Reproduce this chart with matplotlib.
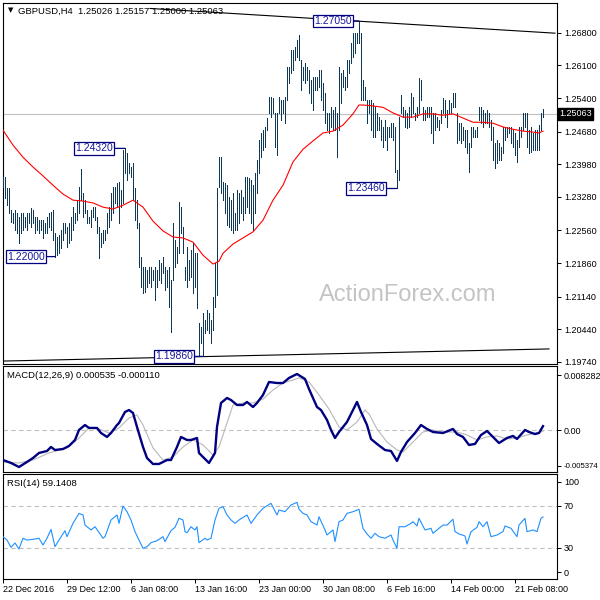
import numpy as np
import matplotlib.pyplot as plt
import matplotlib.transforms as mtransforms

plt.rcParams['font.family'] = ['Liberation Sans', 'DejaVu Sans']

# ---- data (GBPUSD H4, bar index 0 = 22 Dec 2016 00:00) ----
bar_high = [
    1.2370, 1.2370, 1.2347, 1.2347, 1.2300, 1.2293, 1.2300, 1.2293, 1.2285, 1.2293,
    1.2293, 1.2285, 1.2293, 1.2293, 1.2304, 1.2300, 1.2285, 1.2285, 1.2278, 1.2278,
    1.2278, 1.2272, 1.2285, 1.2293, 1.2295, 1.2300, 1.2250, 1.2242, 1.2246, 1.2257,
    1.2272, 1.2272, 1.2263, 1.2272, 1.2285, 1.2306, 1.2293, 1.2321, 1.2349, 1.2388,
    1.2336, 1.2321, 1.2300, 1.2285, 1.2300, 1.2306, 1.2306, 1.2285, 1.2263, 1.2250,
    1.2257, 1.2257, 1.2293, 1.2306, 1.2336, 1.2349, 1.2349, 1.2358, 1.2360, 1.2343,
    1.2428, 1.2432, 1.2422, 1.2400, 1.2392, 1.2400, 1.2347, 1.2321, 1.2272, 1.2200,
    1.2177, 1.2177, 1.2171, 1.2177, 1.2177, 1.2171, 1.2177, 1.2171, 1.2192, 1.2186,
    1.2199, 1.2177, 1.2171, 1.2177, 1.2150, 1.2272, 1.2235, 1.2220, 1.2317, 1.2306,
    1.2263, 1.2177, 1.2220, 1.2192, 1.2214, 1.2229, 1.2207, 1.2207, 1.2057, 1.2050,
    1.2079, 1.2064, 1.2085, 1.2079, 1.2064, 1.2113, 1.2186, 1.2347, 1.2413, 1.2413,
    1.2360, 1.2358, 1.2353, 1.2328, 1.2321, 1.2336, 1.2293, 1.2343, 1.2336, 1.2343,
    1.2328, 1.2370, 1.2370, 1.2368, 1.2364, 1.2353, 1.2379, 1.2407, 1.2450, 1.2465,
    1.2471, 1.2478, 1.2497, 1.2542, 1.2542, 1.2540, 1.2508, 1.2508, 1.2542, 1.2536,
    1.2536, 1.2542, 1.2606, 1.2606, 1.2643, 1.2643, 1.2649, 1.2664, 1.2675, 1.2621,
    1.2606, 1.2615, 1.2606, 1.2600, 1.2578, 1.2585, 1.2585, 1.2585, 1.2600, 1.2600,
    1.2572, 1.2550, 1.2508, 1.2508, 1.2520, 1.2514, 1.2520, 1.2508, 1.2606, 1.2593,
    1.2600, 1.2585, 1.2621, 1.2621, 1.2658, 1.2679, 1.2679, 1.2679, 1.2705, 1.2679,
    1.2578, 1.2563, 1.2536, 1.2536, 1.2536, 1.2529, 1.2520, 1.2508, 1.2499, 1.2493,
    1.2478, 1.2493, 1.2478, 1.2478, 1.2486, 1.2486, 1.2478, 1.2385, 1.2500, 1.2546,
    1.2520, 1.2514, 1.2508, 1.2520, 1.2550, 1.2542, 1.2508, 1.2520, 1.2583, 1.2578,
    1.2520, 1.2514, 1.2520, 1.2520, 1.2520, 1.2508, 1.2508, 1.2499, 1.2493, 1.2514,
    1.2540, 1.2536, 1.2514, 1.2536, 1.2529, 1.2550, 1.2550, 1.2508, 1.2486, 1.2486,
    1.2478, 1.2471, 1.2471, 1.2443, 1.2478, 1.2478, 1.2471, 1.2478, 1.2520, 1.2520,
    1.2514, 1.2508, 1.2514, 1.2508, 1.2493, 1.2478, 1.2443, 1.2450, 1.2443, 1.2435,
    1.2478, 1.2478, 1.2478, 1.2478, 1.2478, 1.2471, 1.2465, 1.2450, 1.2478, 1.2478,
    1.2508, 1.2508, 1.2508, 1.2471, 1.2478, 1.2465, 1.2471, 1.2471, 1.2482, 1.2508,
    1.2516,
]
bar_low = [
    1.2349, 1.2325, 1.2310, 1.2293, 1.2274, 1.2272, 1.2257, 1.2250, 1.2229, 1.2250,
    1.2257, 1.2263, 1.2257, 1.2272, 1.2263, 1.2272, 1.2250, 1.2257, 1.2250, 1.2257,
    1.2240, 1.2250, 1.2250, 1.2263, 1.2257, 1.2235, 1.2200, 1.2203, 1.2207, 1.2218,
    1.2235, 1.2250, 1.2220, 1.2229, 1.2235, 1.2257, 1.2272, 1.2278, 1.2293, 1.2321,
    1.2285, 1.2293, 1.2272, 1.2272, 1.2263, 1.2285, 1.2278, 1.2250, 1.2197, 1.2220,
    1.2229, 1.2235, 1.2250, 1.2263, 1.2278, 1.2293, 1.2315, 1.2306, 1.2272, 1.2306,
    1.2315, 1.2379, 1.2364, 1.2379, 1.2370, 1.2321, 1.2278, 1.2261, 1.2177, 1.2135,
    1.2122, 1.2124, 1.2135, 1.2143, 1.2135, 1.2150, 1.2107, 1.2135, 1.2150, 1.2143,
    1.2165, 1.2128, 1.2135, 1.2092, 1.2038, 1.2150, 1.2177, 1.2186, 1.2207, 1.2250,
    1.2207, 1.2150, 1.2135, 1.2150, 1.2156, 1.2122, 1.2135, 1.2090, 1.1990, 1.2015,
    1.1986, 1.2036, 1.2042, 1.2036, 1.2015, 1.2042, 1.2092, 1.2117, 1.2349, 1.2336,
    1.2321, 1.2293, 1.2268, 1.2263, 1.2257, 1.2250, 1.2257, 1.2257, 1.2272, 1.2293,
    1.2278, 1.2293, 1.2306, 1.2293, 1.2272, 1.2257, 1.2293, 1.2336, 1.2379, 1.2413,
    1.2428, 1.2435, 1.2471, 1.2508, 1.2499, 1.2508, 1.2435, 1.2418, 1.2508, 1.2493,
    1.2508, 1.2486, 1.2536, 1.2572, 1.2593, 1.2600, 1.2621, 1.2628, 1.2621, 1.2557,
    1.2578, 1.2572, 1.2578, 1.2550, 1.2529, 1.2514, 1.2557, 1.2557, 1.2563, 1.2536,
    1.2514, 1.2486, 1.2471, 1.2465, 1.2478, 1.2471, 1.2471, 1.2413, 1.2471, 1.2529,
    1.2563, 1.2557, 1.2563, 1.2593, 1.2615, 1.2628, 1.2636, 1.2658, 1.2658, 1.2536,
    1.2536, 1.2536, 1.2486, 1.2508, 1.2471, 1.2456, 1.2456, 1.2471, 1.2471, 1.2450,
    1.2435, 1.2450, 1.2428, 1.2456, 1.2456, 1.2450, 1.2381, 1.2346, 1.2364, 1.2508,
    1.2499, 1.2478, 1.2475, 1.2478, 1.2499, 1.2508, 1.2493, 1.2499, 1.2508, 1.2536,
    1.2493, 1.2493, 1.2499, 1.2499, 1.2465, 1.2443, 1.2471, 1.2478, 1.2471, 1.2486,
    1.2508, 1.2499, 1.2478, 1.2508, 1.2508, 1.2520, 1.2520, 1.2443, 1.2450, 1.2443,
    1.2450, 1.2435, 1.2422, 1.2381, 1.2435, 1.2456, 1.2456, 1.2456, 1.2493, 1.2486,
    1.2478, 1.2486, 1.2486, 1.2478, 1.2450, 1.2407, 1.2390, 1.2400, 1.2407, 1.2407,
    1.2422, 1.2450, 1.2456, 1.2465, 1.2443, 1.2435, 1.2418, 1.2403, 1.2435, 1.2456,
    1.2471, 1.2478, 1.2435, 1.2422, 1.2424, 1.2428, 1.2428, 1.2428, 1.2428, 1.2471,
    1.2500,
]

# moving average (red), sampled along the line
ma_points = [
    (0, 1.2471), (5, 1.2439), (10, 1.2413), (15, 1.2392), (20, 1.2373), (25, 1.2353),
    (30, 1.2334), (35, 1.2321), (40, 1.2319), (45, 1.2315), (50, 1.2306), (55, 1.2302),
    (60, 1.2310), (65, 1.2321), (70, 1.2306), (75, 1.2276), (80, 1.2255), (85, 1.2242),
    (90, 1.2240), (95, 1.2231), (100, 1.2203), (105, 1.2184), (108, 1.2190), (110, 1.2207),
    (115, 1.2227), (120, 1.2240), (125, 1.2253), (130, 1.2278), (135, 1.2321), (140, 1.2353),
    (145, 1.2403), (150, 1.2430), (155, 1.2448), (160, 1.2465), (165, 1.2469), (170, 1.2482),
    (175, 1.2506), (178, 1.2525), (180, 1.2525), (185, 1.2523), (190, 1.2520), (195, 1.2508),
    (200, 1.2499), (205, 1.2499), (210, 1.2506), (215, 1.2506), (220, 1.2503), (225, 1.2506),
    (230, 1.2497), (235, 1.2488), (240, 1.2488), (245, 1.2486), (250, 1.2478), (255, 1.2473),
    (260, 1.2469), (265, 1.2467), (268, 1.2465), (270, 1.2469),
]

macd_points = [
    (0, -0.00383), (4, -0.00421), (8, -0.00473), (12, -0.00408), (15, -0.00357),
    (18, -0.00292), (22, -0.00267), (24, -0.00215), (26, -0.00254), (30, -0.00241),
    (33, -0.00202), (36, -0.00125), (38, 0.00004), (41, 0.00068), (43, 0.00030),
    (47, 0.00030), (49, -0.00035), (52, -0.00086), (54, -0.00035), (57, 0.00068),
    (58, 0.00094), (61, 0.00236), (63, 0.00261), (65, 0.00223), (67, 0.00043),
    (70, -0.00215), (72, -0.00357), (75, -0.00434), (78, -0.00434), (82, -0.00383),
    (84, -0.00383), (87, -0.00215), (89, -0.00086), (92, -0.00125), (94, -0.00125),
    (97, -0.00099), (98, -0.00292), (101, -0.00370), (103, -0.00421), (106, -0.00292),
    (107, 0.00043), (109, 0.00352), (112, 0.00416), (114, 0.00390), (117, 0.00326),
    (120, 0.00326), (122, 0.00365), (125, 0.00300), (127, 0.00352), (130, 0.00455),
    (133, 0.00622), (137, 0.00609), (140, 0.00609), (143, 0.00674), (147, 0.00725),
    (151, 0.00661), (153, 0.00532), (157, 0.00300), (159, 0.00261), (162, 0.00133),
    (164, 0.00004), (166, -0.00099), (168, -0.00022), (172, 0.00107), (175, 0.00261),
    (177, 0.00365), (179, 0.00236), (182, 0.00068), (184, -0.00112), (187, -0.00176),
    (191, -0.00254), (194, -0.00267), (197, -0.00395), (199, -0.00279), (202, -0.00151),
    (206, -0.00035), (209, 0.00068), (212, 0.00017), (215, -0.00022), (220, -0.00035),
    (225, 0.00017), (227, -0.00048), (230, -0.00086), (233, -0.00189), (236, -0.00176),
    (239, -0.00061), (242, -0.00009), (245, -0.00086), (248, -0.00164), (252, -0.00099),
    (255, -0.00073), (257, -0.00112), (261, 0.00004), (263, -0.00022), (266, -0.00048),
    (268, -0.00035), (270, 0.000535),
]
signal_points = [
    (0, -0.00408), (8, -0.00421), (15, -0.00383), (23, -0.00292), (32, -0.00228),
    (38, -0.00099), (43, 0.00030), (48, 0.00017), (53, -0.00035), (58, 0.00030),
    (63, 0.00158), (67, 0.00197), (70, 0.00068), (75, -0.00228), (80, -0.00383),
    (85, -0.00344), (90, -0.00215), (95, -0.00125), (100, -0.00189), (105, -0.00318),
    (108, -0.00215), (112, 0.00094), (115, 0.00326), (120, 0.00352), (125, 0.00352),
    (130, 0.00403), (135, 0.00519), (140, 0.00609), (145, 0.00648), (148, 0.00674),
    (153, 0.00622), (158, 0.00455), (163, 0.00274), (168, 0.00043), (172, 0.00004),
    (177, 0.00107), (181, 0.00261), (183, 0.00210), (187, 0.00017), (192, -0.00151),
    (197, -0.00254), (200, -0.00279), (205, -0.00151), (210, -0.00022), (215, 0.00004),
    (220, -0.00022), (227, -0.00022), (232, -0.00061), (237, -0.00125), (242, -0.00086),
    (247, -0.00073), (252, -0.00112), (257, -0.00099), (262, -0.00061), (267, -0.00035),
    (270, -0.00011),
]

rsi_points = [
    (0, 40.3), (2, 37.1), (4, 30.2), (6, 34.3), (8, 28.6), (10, 38.8), (12, 37.1),
    (15, 37.8), (18, 38.8), (20, 32.4), (22, 38.8), (24, 47.3), (26, 30.8), (28, 37.1),
    (31, 46.0), (32, 40.3), (35, 53.0), (38, 62.5), (40, 61.0), (41, 51.4), (44, 46.7),
    (46, 49.8), (50, 38.8), (51, 40.3), (54, 56.2), (57, 61.0), (58, 53.0), (60, 69.5),
    (62, 64.1), (64, 56.2), (66, 45.1), (68, 37.1), (70, 29.2), (72, 30.8), (74, 34.6),
    (77, 36.5), (80, 40.3), (81, 35.6), (84, 46.0), (86, 49.2), (88, 57.8), (90, 56.2),
    (91, 45.1), (92, 44.1), (94, 49.8), (96, 46.7), (97, 49.8), (98, 34.6), (101, 38.8),
    (102, 37.1), (104, 38.8), (106, 56.2), (108, 67.3), (110, 68.9), (112, 61.0),
    (114, 56.2), (116, 53.0), (118, 56.2), (122, 61.0), (124, 53.0), (127, 61.0),
    (130, 67.3), (134, 72.1), (137, 61.0), (138, 65.7), (141, 64.1), (144, 70.5),
    (147, 73.0), (148, 66.5), (150, 62.5), (152, 61.0), (154, 54.6), (157, 51.4),
    (158, 59.3), (161, 46.7), (162, 41.9), (165, 46.7), (166, 35.6), (168, 54.6),
    (170, 56.2), (172, 62.5), (175, 64.1), (178, 66.4), (180, 48.3), (182, 42.9),
    (184, 38.8), (186, 43.5), (188, 40.3), (191, 38.8), (194, 41.9), (195, 37.1),
    (197, 29.2), (198, 49.8), (201, 49.8), (204, 53.0), (205, 54.6), (207, 50.5),
    (208, 57.8), (211, 46.7), (214, 48.3), (215, 43.5), (218, 48.3), (220, 51.4),
    (222, 51.4), (225, 56.9), (226, 45.1), (228, 42.9), (231, 41.0), (232, 33.3),
    (234, 45.1), (237, 49.2), (238, 54.6), (240, 49.8), (242, 54.6), (244, 40.3),
    (247, 41.9), (250, 45.1), (251, 50.5), (254, 48.3), (257, 40.3), (258, 51.4),
    (261, 57.8), (262, 45.1), (265, 46.7), (267, 45.1), (269, 57.8), (270, 59.1),
]

trend_upper = [(73.5, 1.2732), (276.0, 1.2679)]
trend_lower = [(0.0, 1.1976), (273.0, 1.2002)]

peak_labels = [(178, 1.2705, '1.27050'), (61, 1.2432, '1.24320'),
               (26, 1.2200, '1.22000'), (100, 1.1986, '1.19860'),
               (197, 1.2346, '1.23460')]
label_gap = [7, 12, 10, 10, 12]

last_price = 1.25063
price_ticks = [1.26800, 1.26100, 1.25400, 1.24680, 1.23980, 1.23280,
               1.22560, 1.21860, 1.21140, 1.20440, 1.19740]
macd_tick_pos = [0.00712, 0.0, -0.00460]
macd_tick_txt = ['0.008282', '0.00', '-0.005374']
rsi_tick_pos = [92.7, 70, 30, 6.4]
rsi_tick_txt = ['100', '70', '30', '0']
date_pos = [0, 32, 64, 96, 128, 160, 192, 224, 256]
date_txt = ['22 Dec 2016', '29 Dec 12:00', '6 Jan 08:00', '13 Jan 16:00',
            '23 Jan 00:00', '30 Jan 08:00', '6 Feb 16:00', '14 Feb 00:00',
            '21 Feb 08:00']

header = 'GBPUSD,H4  1.25026 1.25157 1.25000 1.25063'
macd_header = 'MACD(12,26,9) 0.000535 -0.000110'
rsi_header = 'RSI(14) 59.1408'

# ---- styling ----
bar_color = '#0f3856'
navy = '#000080'
label_blue = '#1818a0'
grey = '#c0c0c0'
tick_fs = 6.5
W = 600

fig = plt.figure(figsize=(6, 6), dpi=100)
fig.patch.set_facecolor('white')


def px_axes(top, bottom, left=2.5, right=557):
    return fig.add_axes([left / W, 1 - bottom / W, (right - left) / W, (bottom - top) / W])


ax = px_axes(3, 364)
axm = px_axes(366, 472)
axr = px_axes(474, 579)

for a in (ax, axm, axr):
    a.set_xlim(-0.25, 277)
    for s in a.spines.values():
        s.set_linewidth(0.8)
        s.set_color('black')
    a.yaxis.tick_right()
    a.tick_params(axis='y', direction='out', length=3, width=0.7, labelsize=tick_fs, pad=2)
    a.tick_params(axis='x', bottom=False, labelbottom=False)

# ---- main price panel ----
idx = np.arange(len(bar_high))
ax.set_ylim(1.19697, 1.27437)
ax.axhline(last_price, color=grey, lw=0.8, zorder=1)
ax.vlines(idx, bar_low, bar_high, color=bar_color, lw=0.6, antialiased=False,
          snap=True, zorder=3)

ma_x, ma_y = zip(*ma_points)
ax.plot(ma_x, ma_y, color='red', lw=0.8, zorder=4)

for tl in (trend_upper, trend_lower):
    tx, ty = zip(*tl)
    ax.plot(tx, ty, color='black', lw=0.8, zorder=4)

for (i, p, txt), gap in zip(peak_labels, label_gap):
    ax.annotate(txt, xy=(i, p), xytext=(-gap, 0), textcoords='offset pixels',
                ha='right', va='center', fontsize=7.5, color=label_blue, zorder=6,
                bbox=dict(boxstyle='square,pad=0.12', fc='white', ec=navy, lw=0.9),
                arrowprops=dict(arrowstyle='-', color=navy, lw=0.9, shrinkA=0, shrinkB=0))

ax.set_yticks(price_ticks)
ax.set_yticklabels([f'{v:.5f}' for v in price_ticks])
ax.set_xticks([])

trans = mtransforms.blended_transform_factory(ax.transAxes, ax.transData)
ax.annotate(f'{last_price:.5f}', xy=(1, last_price), xycoords=trans,
            xytext=(2, 0), textcoords='offset pixels', ha='left', va='center',
            fontsize=tick_fs, color='white', annotation_clip=False,
            bbox=dict(boxstyle='square,pad=0.15', fc='black', ec='black'))

fig.text(408 / W, 1 - 295 / W, 'ActionForex.com', fontsize=17, color='#c4c4c4',
         ha='center', va='center', zorder=0)

fig.text(10.5 / W, 1 - 10.5 / W, '▼', fontsize=5, family='DejaVu Sans',
         ha='center', va='center')
fig.text(18 / W, 1 - 11 / W, header, fontsize=6.8, ha='left', va='center')

# ---- MACD panel ----
axm.set_ylim(-0.005374, 0.008282)
axm.axhline(0, color=grey, lw=0.8, ls=(0, (4, 3)), zorder=1)
sx, sy = zip(*signal_points)
axm.plot(sx, sy, color='#b8b8b8', lw=0.8, zorder=2)
mx, my = zip(*macd_points)
axm.plot(mx, my, color=navy, lw=1.7, zorder=3, solid_joinstyle='round')
axm.set_yticks(macd_tick_pos)
axm.set_yticklabels(macd_tick_txt)
axm.tick_params(axis='y', pad=1.5)
axm.get_yticklabels()[-1].set_fontsize(5.6)
axm.set_xticks([])
fig.text(7 / W, 1 - 376 / W, macd_header, fontsize=6.8, ha='left', va='center')

# ---- RSI panel ----
axr.set_ylim(0, 100)
for lvl in (70, 30):
    axr.axhline(lvl, color=grey, lw=0.8, ls=(0, (4, 3)), zorder=1)
rx, ry = zip(*rsi_points)
axr.plot(rx, ry, color='#1e90ff', lw=0.8, zorder=3)
axr.set_yticks(rsi_tick_pos)
axr.set_yticklabels(rsi_tick_txt)
axr.set_xticks(date_pos)
axr.set_xticklabels(date_txt)
axr.tick_params(axis='x', bottom=True, labelbottom=True, direction='out', length=3,
                width=0.7, labelsize=tick_fs, pad=1.5)
for lbl in axr.get_xticklabels():
    lbl.set_ha('left')
fig.text(7 / W, 1 - 484 / W, rsi_header, fontsize=6.8, ha='left', va='center')

fig.savefig('out.png', dpi=100, facecolor='white')
